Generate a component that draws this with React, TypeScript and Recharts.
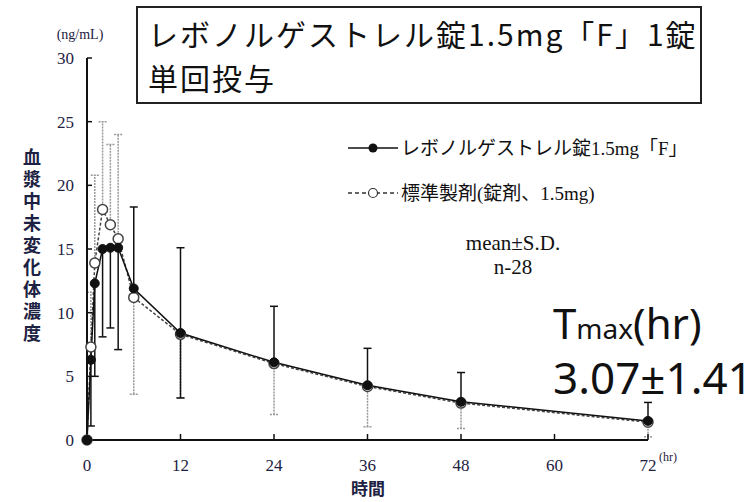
import React from 'react';
import { LineChart, Line, XAxis, YAxis, ErrorBar } from 'recharts';

const hours = [0, 0.5, 1, 2, 3, 4, 6, 12, 24, 36, 48, 72];
const testMean = [0, 6.3, 12.3, 15.0, 15.1, 15.1, 11.9, 8.4, 6.1, 4.3, 3.0, 1.5];
const testSdDown = [0, 5.2, 7.3, 6.9, 6.3, 8.0, 0, 5.1, 0, 0, 0, 0];
const testSdUp = [0, 0, 0, 0, 0, 0, 6.4, 6.7, 4.4, 2.9, 2.3, 1.45];
const refMean = [0, 7.3, 13.9, 18.1, 16.9, 15.8, 11.2, 8.3, 6.0, 4.2, 2.9, 1.4];
const refSdUp = [0, 4.3, 6.9, 6.9, 6.3, 8.2, 0, 0, 0, 0, 0, 0];
const refSdDown = [0, 0, 0, 0, 0, 0, 7.6, 5.0, 4.0, 3.15, 2.0, 1.15];
const xTicks = [0, 12, 24, 36, 48, 60, 72];
const yTicks = [0, 5, 10, 15, 20, 25, 30];

const titleLine1 = 'レボノルゲストレル錠1.5mg「F」1錠';
const titleLine2 = '単回投与';
const testName = 'レボノルゲストレル錠1.5mg「F」';
const refName = '標準製剤(錠剤、1.5mg)';
const yLabel = '血漿中未変化体濃度';
const xLabel = '時間';
const yUnit = '(ng/mL)';
const xUnit = '(hr)';
const statsLine1 = 'mean±S.D.';
const statsLine2 = 'n-28';
const tmaxValue = '3.07±1.41';

const rows = hours.map((t, i) => ({
  t,
  test: testMean[i],
  testErr: [testSdDown[i], testSdUp[i]],
  ref: refMean[i],
  refErr: [refSdDown[i], refSdUp[i]],
}));

const serif = "'Liberation Serif', 'Noto Sans CJK JP', serif";
const cjk = "'Noto Sans CJK JP', sans-serif";
const navy = '#1d2142';

export default function App() {
  return (
    <div style={{ position: 'absolute', left: 0, top: 0, width: 754, height: 502, background: '#fff' }}>
      <LineChart
        width={754}
        height={502}
        data={rows}
        margin={{ top: 58, right: 106, bottom: 32, left: 57 }}
      >
        <XAxis
          type="number"
          dataKey="t"
          domain={[0, 72]}
          ticks={xTicks}
          interval={0}
          height={30}
          stroke="#111"
          strokeWidth={2}
          tickSize={-6}
          tickMargin={25}
          tickLine={{ stroke: '#111', strokeWidth: 1.5 }}
          tick={{ fontSize: 17, fill: navy, fontFamily: serif }}
        />
        <YAxis
          type="number"
          domain={[0, 30]}
          ticks={yTicks}
          interval={0}
          width={30}
          stroke="#111"
          strokeWidth={2}
          tickSize={-5}
          tickMargin={18}
          tickLine={{ stroke: '#111', strokeWidth: 1.5 }}
          tick={{ fontSize: 17, fill: navy, fontFamily: serif }}
        />
        <Line
          dataKey="ref"
          isAnimationActive={false}
          stroke="#444"
          strokeWidth={1.5}
          strokeDasharray="3 2"
          dot={{ r: 5, fill: '#fff', stroke: '#444', strokeWidth: 1.5, strokeDasharray: '0' }}
        >
          <ErrorBar dataKey="refErr" width={4} stroke="#999" strokeWidth={1.5} strokeDasharray="2 1" isAnimationActive={false} />
        </Line>
        <Line
          dataKey="test"
          isAnimationActive={false}
          stroke="#111"
          strokeWidth={1.5}
          dot={{ r: 4.5, fill: '#111', stroke: '#111', strokeWidth: 1 }}
        >
          <ErrorBar dataKey="testErr" width={4} stroke="#111" strokeWidth={1.5} isAnimationActive={false} />
        </Line>
      </LineChart>
      <svg
        width={754}
        height={502}
        style={{ position: 'absolute', left: 0, top: 0, pointerEvents: 'none' }}
      >
        <rect x={137} y={7} width={564} height={96} fill="#fff" stroke="#222" strokeWidth={2} />
        <text x={148} y={46} fontSize={30} letterSpacing={2} fontFamily={cjk} fill="#111">{titleLine1}</text>
        <text x={148} y={90} fontSize={30} letterSpacing={2} fontFamily={cjk} fill="#111">{titleLine2}</text>

        <text x={80} y={39} fontSize={14} fontFamily={serif} fill={navy} textAnchor="middle">{yUnit}</text>
        <text
          x={32}
          y={148}
          fontSize={18}
          fontWeight={700}
          fontFamily={cjk}
          fill={navy}
          letterSpacing={4}
          style={{ writingMode: 'vertical-rl' }}
        >
          {yLabel}
        </text>
        <text x={368} y={495} fontSize={17} fontWeight={700} fontFamily={cjk} fill={navy} textAnchor="middle">{xLabel}</text>
        <text x={659} y={461} fontSize={12} fontFamily={serif} fill={navy}>{xUnit}</text>

        <line x1={348} y1={148} x2={398} y2={148} stroke="#111" strokeWidth={1.5} />
        <circle cx={373} cy={148} r={4.5} fill="#111" />
        <text x={401} y={155} fontSize={19} fontFamily={serif} fill="#111">{testName}</text>
        <line x1={348} y1={193} x2={398} y2={193} stroke="#333" strokeWidth={1.5} strokeDasharray="4 3" />
        <circle cx={373} cy={193} r={4.5} fill="#fff" stroke="#333" strokeWidth={1.2} />
        <text x={401} y={200} fontSize={19} fontFamily={serif} fill="#111">{refName}</text>

        <text x={513} y={250} fontSize={21} fontFamily={serif} fill="#111" textAnchor="middle">{statsLine1}</text>
        <text x={513} y={274} fontSize={21} fontFamily={serif} fill="#111" textAnchor="middle">{statsLine2}</text>

        <text x={553} y={339} fontSize={42} fontFamily="'Noto Sans', sans-serif" fill="#111">
          T<tspan fontSize={28}>max</tspan>(hr)
        </text>
        <text x={553} y={394} fontSize={44} fontFamily="'Noto Sans', sans-serif" fill="#111">{tmaxValue}</text>
      </svg>
    </div>
  );
}
